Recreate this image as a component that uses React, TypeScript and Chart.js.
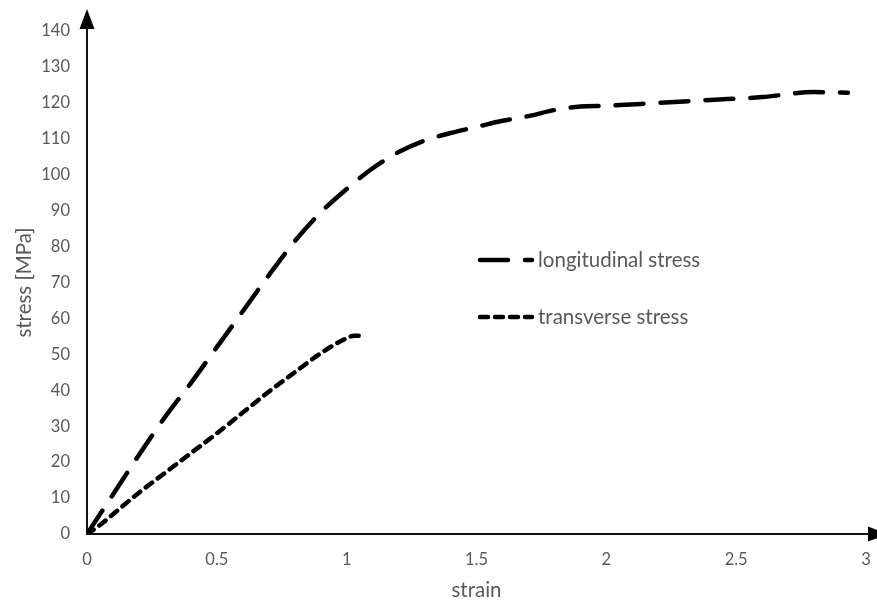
import React, { useEffect, useRef } from 'react';
import { Chart, registerables } from 'chart.js';

Chart.register(...registerables);

// Longitudinal stress-strain curve
const strainLong = [0, 0.1, 0.2, 0.3, 0.4, 0.5, 0.6, 0.7, 0.8, 0.9, 1.0, 1.1, 1.2, 1.3, 1.4, 1.5, 1.6, 1.7, 1.8, 1.9, 2.0, 2.2, 2.4, 2.6, 2.8, 2.93];
const stressLong = [0, 11, 22, 32.5, 42, 52, 62, 72, 81.5, 89.5, 96, 101.8, 106.3, 109.5, 111.6, 113.3, 115, 116.3, 118, 119, 119.2, 120, 120.8, 121.6, 123, 122.8];

// Transverse stress-strain curve
const strainTrans = [0, 0.05, 0.1, 0.2, 0.3, 0.4, 0.5, 0.6, 0.7, 0.8, 0.9, 1.0, 1.03, 1.07];
const stressTrans = [0, 2.5, 5.5, 11.5, 17, 22.5, 28, 33.8, 39.6, 45, 50.3, 54.5, 55.2, 55];

const seriesLabels = ['longitudinal stress', 'transverse stress'];
const xTitle = 'strain';
const yTitle = 'stress [MPa]';

const FONT = 'Lato';
const TEXT = '#595959';

const arrowPlugin = {
  id: 'axisArrows',
  afterDraw(chart: any) {
    const { ctx, chartArea } = chart;
    const { left, right, top, bottom } = chartArea;
    ctx.save();
    ctx.fillStyle = '#000';
    ctx.strokeStyle = '#111';
    ctx.lineWidth = 2;
    // y arrow
    ctx.beginPath();
    ctx.moveTo(left, top);
    ctx.lineTo(left, top - 3);
    ctx.stroke();
    ctx.beginPath();
    ctx.moveTo(left, top - 22);
    ctx.lineTo(left - 7.5, top - 2);
    ctx.lineTo(left + 7.5, top - 2);
    ctx.closePath();
    ctx.fill();
    // x arrow
    ctx.beginPath();
    ctx.moveTo(right, bottom);
    ctx.lineTo(right + 3, bottom);
    ctx.stroke();
    ctx.beginPath();
    ctx.moveTo(right + 22, bottom);
    ctx.lineTo(right + 2, bottom - 7.5);
    ctx.lineTo(right + 2, bottom + 7.5);
    ctx.closePath();
    ctx.fill();
    ctx.restore();
  },
};

const legendPlugin = {
  id: 'insideLegend',
  afterDraw(chart: any) {
    const { ctx } = chart;
    const x0 = 480;
    const x1 = 532;
    const ys = [260, 317];
    ctx.save();
    chart.data.datasets.forEach((ds: any, i: number) => {
      const y = ys[i];
      ctx.strokeStyle = ds.borderColor;
      ctx.lineWidth = ds.borderWidth;
      ctx.lineCap = 'round';
      ctx.setLineDash(ds.borderDash);
      ctx.beginPath();
      ctx.moveTo(x0, y);
      ctx.lineTo(x1, y);
      ctx.stroke();
      ctx.setLineDash([]);
      ctx.fillStyle = TEXT;
      ctx.font = `20.5px ${FONT}`;
      ctx.textAlign = 'left';
      ctx.textBaseline = 'middle';
      ctx.fillText(ds.label, 538, y);
    });
    ctx.restore();
  },
};

export default function App() {
  const ref = useRef<HTMLCanvasElement>(null);

  useEffect(() => {
    if (!ref.current) return;
    const chart = new Chart(ref.current, {
      type: 'line',
      data: {
        datasets: [
          {
            label: seriesLabels[0],
            data: strainLong.map((x, i) => ({ x, y: stressLong[i] })),
            borderColor: '#000',
            borderWidth: 4.5,
            borderDash: [28, 17],
            borderCapStyle: 'round',
            cubicInterpolationMode: 'monotone',
            pointRadius: 0,
            fill: false,
          },
          {
            label: seriesLabels[1],
            data: strainTrans.map((x, i) => ({ x, y: stressTrans[i] })),
            borderColor: '#000',
            borderWidth: 4.5,
            borderDash: [8, 7],
            borderCapStyle: 'round',
            cubicInterpolationMode: 'monotone',
            pointRadius: 0,
            fill: false,
          },
        ],
      },
      options: {
        responsive: false,
        animation: false,
        layout: { padding: { top: 31, right: 11, left: 0, bottom: 0 } },
        plugins: {
          legend: { display: false },
          tooltip: { enabled: false },
        },
        scales: {
          x: {
            type: 'linear',
            min: 0,
            max: 3,
            afterFit: (s: any) => { s.height = 69; s.paddingRight = 0; s.paddingLeft = 0; },
            ticks: {
              stepSize: 0.5,
              padding: 16,
              color: TEXT,
              font: { family: FONT, size: 16.5 },
              callback: (v: any) => String(v),
            },
            grid: { display: false, drawTicks: false },
            border: { display: true, color: '#111', width: 2 },
            title: {
              display: true,
              text: xTitle,
              color: TEXT,
              font: { family: FONT, size: 20.5 },
              padding: { top: 0, bottom: 0 },
            },
          },
          y: {
            type: 'linear',
            min: 0,
            max: 140,
            afterFit: (s: any) => { s.width = 87; s.paddingTop = 0; s.paddingBottom = 0; },
            ticks: {
              stepSize: 10,
              padding: 17,
              color: TEXT,
              font: { family: FONT, size: 16.5 },
            },
            grid: { display: false, drawTicks: false },
            border: { display: true, color: '#111', width: 2 },
            title: {
              display: true,
              text: yTitle,
              color: TEXT,
              font: { family: FONT, size: 20.5 },
              padding: { top: 12, bottom: 0 },
            },
          },
        },
      },
      plugins: [arrowPlugin, legendPlugin],
    } as any);
    return () => chart.destroy();
  }, []);

  return (
    <div style={{ position: 'fixed', left: 0, top: 0, width: 877, height: 603, background: '#fff' }}>
      <canvas ref={ref} width={877} height={603} />
    </div>
  );
}
